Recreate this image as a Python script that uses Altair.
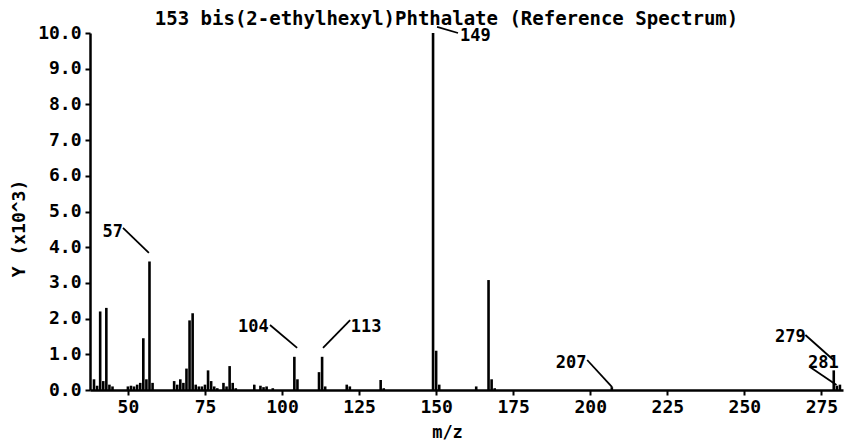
import altair as alt
import pandas as pd

# ---- spectrum data (m/z, intensity in thousands) ----
MZ = [39, 40, 41, 42, 43, 44, 45, 50, 51, 52, 53, 54, 55, 56, 57, 58,
      65, 66, 67, 68, 69, 70, 71, 72, 73, 74, 75, 76, 77, 78, 79, 81, 82, 83, 84, 85,
      91, 93, 94, 95, 97, 104, 105, 112, 113, 114, 121, 122, 132, 133,
      149, 150, 151, 163, 167, 168, 169, 207, 279, 280, 281]
INTENSITY = [0.30, 0.12, 2.20, 0.25, 2.30, 0.15, 0.10, 0.10, 0.12, 0.10, 0.15, 0.20, 1.45, 0.30, 3.60, 0.20,
             0.25, 0.15, 0.30, 0.20, 0.60, 1.95, 2.15, 0.15, 0.10, 0.10, 0.15, 0.55, 0.25, 0.10, 0.05, 0.20, 0.10, 0.67, 0.20, 0.05,
             0.15, 0.12, 0.08, 0.10, 0.05, 0.93, 0.30, 0.50, 0.93, 0.10, 0.15, 0.10, 0.28, 0.05,
             10.0, 1.10, 0.15, 0.10, 3.08, 0.30, 0.05, 0.08, 0.55, 0.12, 0.15]

X_TICKS = [50, 75, 100, 125, 150, 175, 200, 225, 250, 275]
Y_TICKS = [0.0, 1.0, 2.0, 3.0, 4.0, 5.0, 6.0, 7.0, 8.0, 9.0, 10.0]

# ---- annotated peaks ----
LABELS = ["57", "104", "113", "149", "207", "279", "281"]
# annotation layout (data units)
LABEL_X = [45.1, 90.7, 127.3, 162.7, 193.8, 264.9, 275.6]
LABEL_Y = [4.43, 1.76, 1.76, 9.92, 0.76, 1.48, 0.76]
LEAD_X1 = [48.4, 96.1, 122.1, 157.1, 199.0, 269.8, 271.4]
LEAD_Y1 = [4.54, 1.82, 1.96, 10.0, 0.84, 1.54, 0.64]
LEAD_X2 = [56.8, 104.9, 113.3, 150.3, 207.1, 278.9, 279.9]
LEAD_Y2 = [3.84, 1.18, 1.18, 10.17, 0.08, 0.84, 0.14]

FONT = "DejaVu Sans Mono"

peaks = pd.DataFrame({"mz": MZ, "y": INTENSITY})
annot = pd.DataFrame({"label": LABELS, "lx": LABEL_X, "ly": LABEL_Y,
                      "x1": LEAD_X1, "y1": LEAD_Y1, "x2": LEAD_X2, "y2": LEAD_Y2})

xscale = alt.Scale(domain=[37.7, 282], nice=False, zero=False)
yscale = alt.Scale(domain=[0, 10], nice=False)

xaxis = alt.Axis(values=X_TICKS, format="d", title="m/z",
                 labelPadding=3, titleX=357, titleY=47, titleBaseline="alphabetic",
                 titleFontSize=17)
yaxis = alt.Axis(values=Y_TICKS, format=".1f", title="Y (x10^3)",
                 labelPadding=4, titleX=-71, titleY=195, titleBaseline="middle",
                 titleAlign="center", titleFontSize=18)

bars = alt.Chart(peaks).mark_rule(color="black", strokeWidth=2.6).encode(
    x=alt.X("mz:Q", scale=xscale, axis=xaxis),
    y=alt.Y("y:Q", scale=yscale, axis=yaxis),
    y2=alt.datum(0),
)

leaders = alt.Chart(annot).mark_rule(color="black", strokeWidth=1.8).encode(
    x=alt.X("x1:Q", scale=xscale, axis=xaxis),
    y=alt.Y("y1:Q", scale=yscale, axis=yaxis),
    x2="x2:Q",
    y2="y2:Q",
)

texts = alt.Chart(annot).mark_text(font=FONT, fontSize=17, fontWeight="bold", color="black",
                                   align="center", baseline="middle").encode(
    x=alt.X("lx:Q", scale=xscale, axis=xaxis),
    y=alt.Y("ly:Q", scale=yscale, axis=yaxis),
    text="label:N",
)

chart = alt.layer(bars, leaders, texts).properties(
    width=753,
    height=357,
    title=alt.TitleParams(text="153 bis(2-ethylhexyl)Phthalate (Reference Spectrum)",
                          font=FONT, fontSize=19, fontWeight="bold", color="black",
                          anchor="middle", dx=-20, dy=11, offset=6),
    autosize=alt.AutoSizeParams(type="none"),
    padding={"left": 82, "top": 25, "right": 8, "bottom": 50},
    background="white",
).configure_view(stroke=None).configure_axis(
    grid=False, labelOverlap=False, labelSeparation=0, labelBound=False,
    labelFont=FONT, labelFontSize=18, labelFontWeight="bold", labelColor="black",
    tickSize=5, tickWidth=2, tickColor="black", domainColor="black", domainWidth=2.5,
    titleFont=FONT, titleFontWeight="bold", titleColor="black",
).configure_axisY(labelOverlap=False, tickCount=11)

chart.save("out.html", embed_options={"renderer": "svg", "actions": False})
